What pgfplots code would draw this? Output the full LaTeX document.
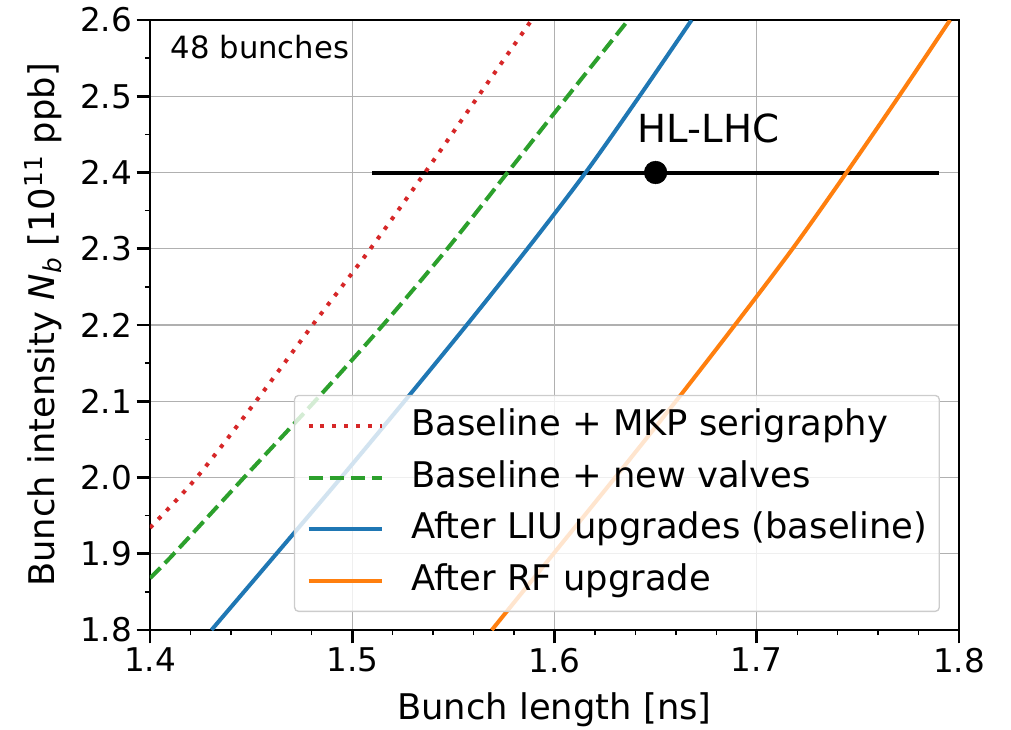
\documentclass[border=0pt]{standalone}
\usepackage{fontspec}
\setmainfont{DejaVu Sans}
\usepackage{pgfplots}
\pgfplotsset{compat=1.18}
\definecolor{tabred}{HTML}{D62728}
\definecolor{tabgreen}{HTML}{2CA02C}
\definecolor{tabblue}{HTML}{1F77B4}
\definecolor{taborange}{HTML}{FF7F0E}
\definecolor{gridgray}{HTML}{B0B0B0}
\begin{document}
\begin{tikzpicture}
\useasboundingbox (-112.5pt,-74.25pt) rectangle (645.75pt,472.5pt);
\begin{axis}[
  scale only axis, width=606.75pt, height=457.5pt,
  xmin=1.4, xmax=1.8, ymin=1.8, ymax=2.6,
  xtick={1.4,1.5,1.6,1.7,1.8},
  ytick={1.8,1.9,2.0,2.1,2.2,2.3,2.4,2.5,2.6},
  minor x tick num=4, minor y tick num=1,
  /pgf/number format/.cd, fixed, fixed zerofill, precision=1, assume math mode=true,
  /pgfplots/.cd,
  tick pos=left, tick align=outside,
  major tick length=10pt, minor tick length=3.75pt,
  major tick style={line width=2pt, black},
  minor tick style={line width=1pt, black},
  grid=major, major grid style={line width=1.1pt, gridgray},
  axis line style={line width=1.5pt},
  ticklabel style={font=\fontsize{24.5}{28}\selectfont},
  xlabel={Bunch length [ns]},
  ylabel={Bunch intensity \textit{N}\textsubscript{\textit{b}} [10\textsuperscript{11} ppb]},
  label style={font=\fontsize{26.5}{30}\selectfont},
  xlabel style={at={(axis description cs:0.5,-0.1311)}, anchor=center},
  ylabel style={at={(axis description cs:-0.1323,0.5)}, anchor=center},
  legend cell align=left,
  legend image code/.code={\draw[#1] (0pt,0pt) -- (55pt,0pt);},
  legend style={at={(0.9765,0.0295)}, anchor=south east,
    font=\fontsize{26.5}{30}\selectfont,
    draw=black!20, line width=1pt, rounded corners=3pt,
    fill=white, fill opacity=0.8, draw opacity=1, text opacity=1,
    inner xsep=9pt, inner ysep=10pt, row sep=13.3pt,
    nodes={inner sep=0pt, text height=20pt, text depth=5.5pt},
    /tikz/every odd column/.append style={column sep=20.5pt}},
]
\addplot[only marks, mark=*, mark size=8.5pt, black, forget plot,
  error bars/.cd, x dir=both, x explicit, error mark=none,
  error bar style={line width=3pt, black}]
  coordinates {(1.65,2.4) +- (0.14,0)};

\addplot[tabred, line width=3pt, smooth, dash pattern=on 3pt off 5.9pt] coordinates {
 (1.4,1.934) (1.4231,2.0) (1.4524,2.1) (1.4804,2.2) (1.5090,2.3) (1.536,2.4) (1.5623,2.5) (1.5887,2.6)};
\addlegendentry{Baseline + MKP serigraphy}

\addplot[tabgreen, line width=3pt, smooth, dash pattern=on 11pt off 4.8pt] coordinates {
 (1.4,1.868) (1.4118,1.9) (1.4465,2.0) (1.4815,2.1) (1.5152,2.2) (1.5470,2.3) (1.5768,2.4) (1.6065,2.5) (1.6365,2.6)};
\addlegendentry{Baseline + new valves}

\addplot[tabblue, line width=3pt, smooth] coordinates {
 (1.4304,1.8) (1.4625,1.9) (1.4945,2.0) (1.5258,2.1) (1.5566,2.2) (1.5866,2.3) (1.6154,2.4) (1.6420,2.5) (1.6678,2.6)};
\addlegendentry{After LIU upgrades (baseline)}

\addplot[taborange, line width=3pt, smooth] coordinates {
 (1.569,1.8) (1.5995,1.9) (1.6300,2.0) (1.6600,2.1) (1.6892,2.2) (1.7177,2.3) (1.7444,2.4) (1.7703,2.5) (1.7956,2.6)};
\addlegendentry{After RF upgrade}

\node[anchor=west, inner sep=0pt, font=\fontsize{23}{27}\selectfont] at (axis cs:1.4102,2.564) {48 bunches};
\node[inner sep=0pt, font=\fontsize{29}{34}\selectfont] at (axis cs:1.6762,2.458) {HL-LHC};
\end{axis}
\end{tikzpicture}
\end{document}
